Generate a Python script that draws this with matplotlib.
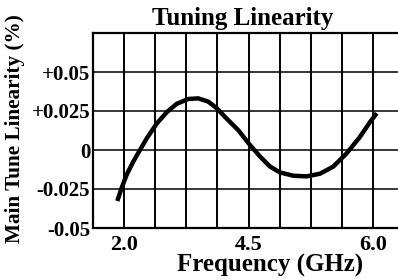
import numpy as np
import matplotlib.pyplot as plt

# data
freq = [1.863, 1.952, 2.052, 2.185, 2.319, 2.454, 2.655, 2.856, 3.057, 3.29, 3.491, 3.692, 3.861,
        4.062, 4.295, 4.518, 4.639, 4.759, 4.880, 5.040, 5.202, 5.362, 5.523, 5.684, 5.844,
        5.965, 6.046]
lin = [-0.0327, -0.0242, -0.0158, -0.0074, 0.0, 0.0074, 0.0169, 0.0242, 0.0296, 0.0327, 0.0331,
       0.0310, 0.0268, 0.0201, 0.0127, 0.0032, -0.0042, -0.0106, -0.0144, -0.0165, -0.0169,
       -0.0152, -0.0106, -0.0021, 0.0084, 0.0179, 0.0236]

xticks = [2.0, 4.5, 6.0]
xticklabels = ['2.0', '4.5', '6.0']
xgrid = [2.0, 2.625, 3.25, 3.875, 4.5, 4.875, 5.25, 5.625, 6.0]
yticks = [-0.05, -0.025, 0, 0.025, 0.05]
yticklabels = ['-0.05', '-0.025', '0', '+0.025', '+0.05']

# the frequency axis is not linear: 2.0->4.5 and 4.5->6.0 take four cells each
knots_f = [1.375, 2.0, 4.5, 6.0, 6.375]
knots_g = [0, 1, 5, 9, 10]

def fwd(f):
    return np.interp(f, knots_f, knots_g)

def inv(g):
    return np.interp(g, knots_g, knots_f)

plt.rcParams['font.family'] = ['Liberation Serif', 'DejaVu Serif']
plt.rcParams['font.weight'] = 'bold'

fig = plt.figure(figsize=(3.98, 2.80), dpi=100)
ax = fig.add_axes([93/398, 1-228/280, 311/398, 195/280])

ax.set_xscale('function', functions=(fwd, inv))
ax.set_xlim(1.375, 6.375)
ax.set_ylim(-0.05, 0.075)

ax.set_xticks(xticks)
ax.set_xticklabels(xticklabels, fontsize=16, fontweight='bold')
ax.set_xticks(xgrid, minor=True)
ax.set_yticks(yticks)
ax.set_yticklabels(yticklabels, fontsize=15, fontweight='bold')
ax.tick_params(axis='both', which='both', length=0)
ax.tick_params(axis='x', pad=5)
ax.tick_params(axis='y', pad=2)

for f in xgrid:
    ax.axvline(f, color='black', lw=1.4, zorder=1)
for v in yticks[1:]:
    ax.axhline(v, color='black', lw=1.1, zorder=1)

for s in ['left', 'bottom', 'top']:
    ax.spines[s].set_linewidth(1.6)
ax.spines['right'].set_visible(False)

ax.plot(freq, lin, color='black', lw=3.2, solid_capstyle='butt', solid_joinstyle='round', zorder=3)

fig.text(243/398, 1-18/280, 'Tuning Linearity', ha='center', va='center', fontsize=18, fontweight='bold')
fig.text(270/398, 1-265/280, 'Frequency (GHz)', ha='center', va='center', fontsize=18, fontweight='bold')
fig.text(15/398, 1-129/280, 'Main Tune Linearity (%)', ha='center', va='center', rotation=90, fontsize=15.3, fontweight='bold')

plt.savefig('out.png', dpi=100)
plt.close()
